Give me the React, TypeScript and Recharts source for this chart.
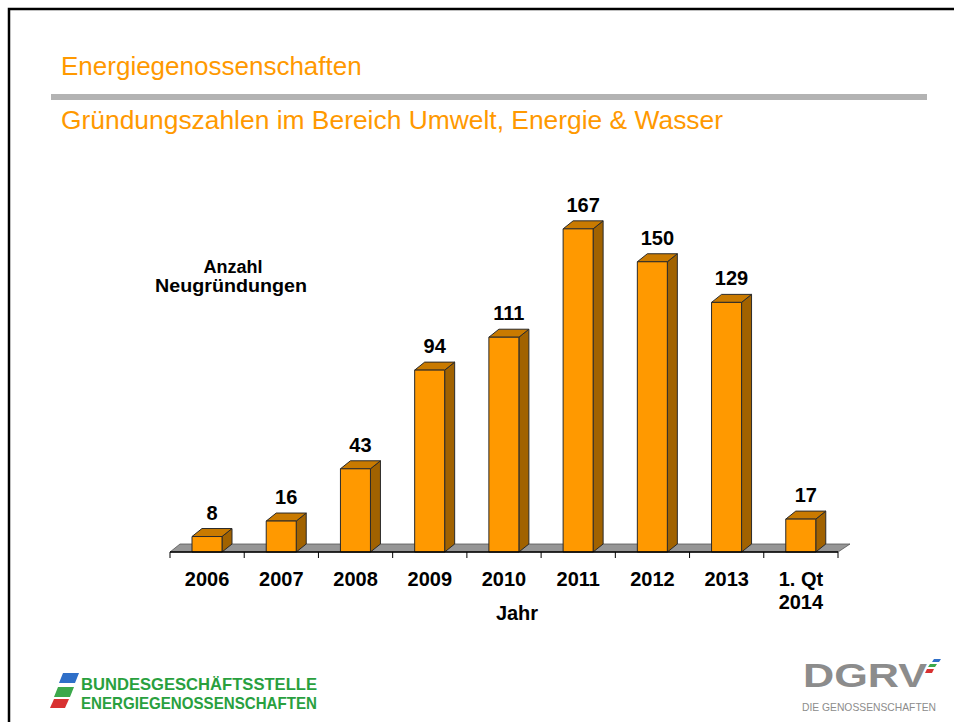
import React from "react"
import { BarChart, Bar, XAxis, YAxis, LabelList, ReferenceArea } from "recharts"

// Gründungszahlen Energiegenossenschaften
const categories = ["2006", "2007", "2008", "2009", "2010", "2011", "2012", "2013", "1. Qt\n2014"]
const neugruendungen = [8, 16, 43, 94, 111, 167, 150, 129, 17]

const chartData = categories.map((jahr, i) => ({ jahr, anzahl: neugruendungen[i] }))

const FONT = "'Liberation Sans', Arial, sans-serif"
const ORANGE = "#FF9900"
const DX = 10
const DY = 8

function Bar3D(props: any) {
  const { x, y, width, height } = props
  if (height == null || height <= 0) return null
  const front = `M${x},${y} h${width} v${height} h${-width} Z`
  const top = `M${x},${y} l${DX},${-DY} h${width} l${-DX},${DY} Z`
  const side = `M${x + width},${y} l${DX},${-DY} v${height} l${-DX},${DY} Z`
  return (
    <g>
      <path d={side} fill="#A16200" stroke="#2a2a2a" strokeWidth={1} strokeLinejoin="round" />
      <path d={top} fill="#C97A00" stroke="#2a2a2a" strokeWidth={1} strokeLinejoin="round" />
      <path d={front} fill={ORANGE} stroke="#2a2a2a" strokeWidth={1} />
    </g>
  )
}

function Floor(props: any) {
  const { x, y, width, height } = props
  const b = y + height
  const pts = `${x},${b} ${x + DX},${b - DY} ${x + width + DX + 2},${b - DY} ${x + width},${b}`
  return <polygon points={pts} fill="#969696" stroke="#555" strokeWidth={0.8} />
}

function CategoryTick(props: any) {
  const { x, y, payload, index } = props
  const half = payload && payload.offset ? payload.offset : 668 / 9 / 2
  const lines = String(payload.value).split("\n")
  return (
    <g>
      <line x1={x - half} x2={x - half} y1={y} y2={y + 6} stroke="#000" strokeWidth={1} />
      {index === categories.length - 1 && (
        <line x1={x + half} x2={x + half} y1={y} y2={y + 6} stroke="#000" strokeWidth={1} />
      )}
      <text x={x} y={y + 34} textAnchor="middle" fontFamily={FONT} fontWeight="bold" fontSize={20} fill="#000">
        {lines.map((l, i) => (
          <tspan key={i} x={x} dy={i === 0 ? 0 : 23}>{l}</tspan>
        ))}
      </text>
    </g>
  )
}

function ValueLabel(props: any) {
  const { x, y, width, value } = props
  return (
    <text x={x + width / 2 + DX / 2} y={y - 17} textAnchor="middle" fontFamily={FONT} fontWeight="bold" fontSize={20} fill="#000">
      {value}
    </text>
  )
}

function Page() {
  return (
    <svg width={954} height={722} style={{ position: "absolute", left: 0, top: 0 }}>
      <rect x={0} y={0} width={954} height={722} fill="#fff" />
      <path d="M9,722 V9 H954" fill="none" stroke="#000" strokeWidth={2.5} />
      <text x={61} y={75} fontFamily={FONT} fontSize={26} fill={ORANGE}>Energiegenossenschaften</text>
      <rect x={51} y={94} width={876} height={6} fill="#b3b3b3" />
      <text x={61} y={129} fontFamily={FONT} fontSize={26.4} fill={ORANGE}>
        Gründungszahlen im Bereich Umwelt, Energie &amp; Wasser
      </text>

      <text x={233} y={273} textAnchor="middle" fontFamily={FONT} fontWeight="bold" fontSize={18} fill="#000">Anzahl</text>
      <text x={231} y={292} textAnchor="middle" fontFamily={FONT} fontWeight="bold" fontSize={18} fill="#000" textLength={152} lengthAdjust="spacingAndGlyphs">Neugründungen</text>
      <text x={517} y={620} textAnchor="middle" fontFamily={FONT} fontWeight="bold" fontSize={20} fill="#000">Jahr</text>

      {/* footer left */}
      <polygon points="63,673 79,673 75,683 59,683" fill="#2f6fc8" />
      <polygon points="58,687 74,687 70,697 54,697" fill="#3ca84b" />
      <polygon points="54,699 69,699 65,708 50,708" fill="#d83131" />
      <text x={81} y={690} fontFamily={FONT} fontWeight="bold" fontSize={17} fill="#29a03e" textLength={236} lengthAdjust="spacingAndGlyphs">
        BUNDESGESCHÄFTSSTELLE
      </text>
      <text x={81} y={709} fontFamily={FONT} fontWeight="bold" fontSize={17} fill="#29a03e" textLength={236} lengthAdjust="spacingAndGlyphs">
        ENERGIEGENOSSENSCHAFTEN
      </text>

      {/* footer right */}
      <text x={803} y={687} fontFamily={FONT} fontWeight="bold" fontSize={34} fill="#8c8c8c" textLength={124} lengthAdjust="spacingAndGlyphs">
        DGRV
      </text>
      <polygon points="934,659 941,659 939,662 932,662" fill="#2f6fc8" />
      <polygon points="930,664 937,664 935,667 928,667" fill="#3ca84b" />
      <polygon points="927,669 934,669 932,673 925,673" fill="#d83131" />
      <text x={802} y={711} fontFamily={FONT} fontSize={11} fill="#8c8c8c" textLength={134} lengthAdjust="spacingAndGlyphs">
        DIE GENOSSENSCHAFTEN
      </text>
    </svg>
  )
}

export default function App() {
  return (
    <div style={{ position: "absolute", left: 0, top: 0, width: 954, height: 722, overflow: "hidden", background: "#fff" }}>
      <Page />
      <div style={{ position: "absolute", left: 0, top: 0 }}>
        <BarChart
          width={954}
          height={722}
          data={chartData}
          margin={{ top: 165, right: 116, bottom: 110, left: 170 }}
        >
          <XAxis
            dataKey="jahr"
            height={60}
            interval={0}
            tickSize={0}
            tickMargin={0}
            axisLine={{ stroke: "#000", strokeWidth: 1.5 }}
            tickLine={false}
            tick={<CategoryTick />}
          />
          <YAxis hide domain={[0, 200]} />
          <ReferenceArea y1={0} y2={1} ifOverflow="visible" shape={<Floor />} />
          <Bar dataKey="anzahl" barSize={30} shape={<Bar3D />} isAnimationActive={false}>
            <LabelList dataKey="anzahl" content={<ValueLabel />} />
          </Bar>
        </BarChart>
      </div>
    </div>
  )
}
